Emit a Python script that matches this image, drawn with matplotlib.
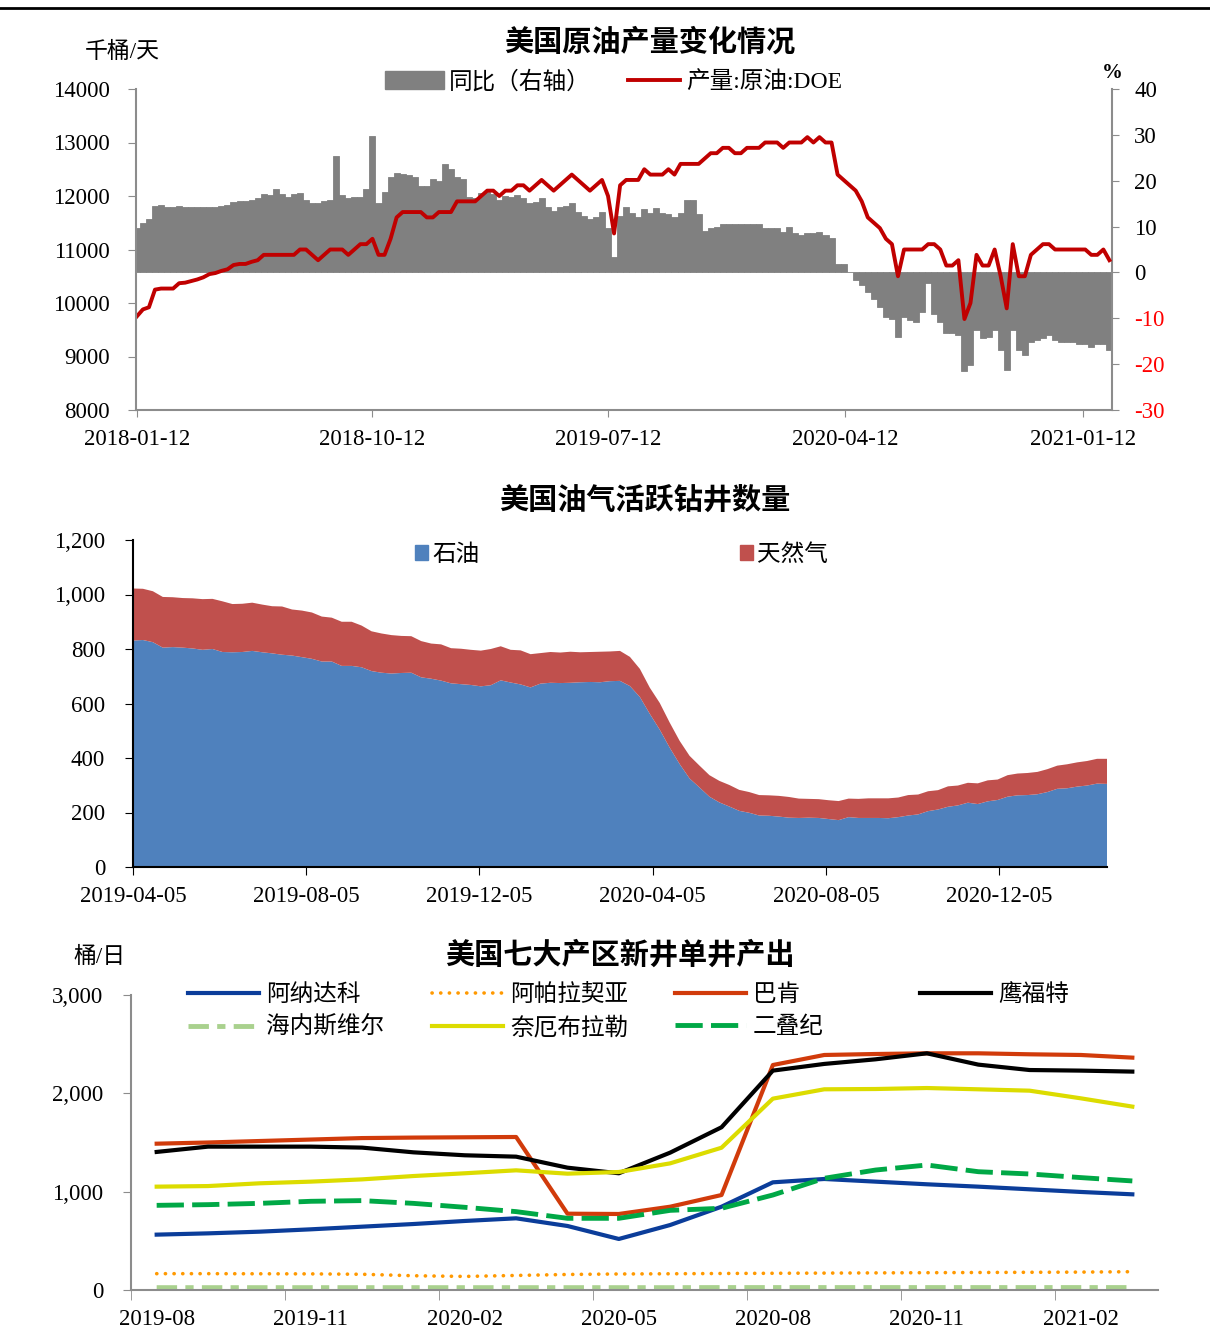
import numpy as np
import pandas as pd
import matplotlib
matplotlib.use('Agg')
import matplotlib.pyplot as plt
import matplotlib.ticker as tkr
import matplotlib.dates as mdates
from matplotlib.lines import Line2D
from matplotlib.patches import Patch

plt.rcParams['font.family'] = ['Liberation Serif', 'Noto Sans CJK SC']
plt.rcParams['axes.unicode_minus'] = False

# ---------------- 美国原油产量 (weekly, DOE) ----------------
prod_start = '2018-01-12'
crude_output = [
    9750, 9880, 9920, 10250, 10270, 10270, 10270, 10370, 10380, 10410,
    10440, 10480, 10540, 10560, 10600, 10630, 10710, 10730, 10730, 10770,
    10800, 10900, 10900, 10900, 10900, 10900, 10900, 11000, 11000, 10900,
    10800, 10900, 11000, 11000, 11000, 10900, 11000, 11100, 11100, 11200,
    10900, 10900, 11200, 11600, 11700, 11700, 11700, 11700, 11600, 11600,
    11700, 11700, 11700, 11900, 11900, 11900, 11900, 12000, 12100, 12100,
    12000, 12100, 12100, 12200, 12200, 12100, 12200, 12300, 12200, 12100,
    12200, 12300, 12400, 12300, 12200, 12100, 12200, 12300, 12000, 11300,
    12200, 12300, 12300, 12300, 12500, 12400, 12400, 12400, 12500, 12400,
    12600, 12600, 12600, 12600, 12700, 12800, 12800, 12900, 12900, 12800,
    12800, 12900, 12900, 12900, 13000, 13000, 13000, 12900, 13000, 13000,
    13000, 13100, 13000, 13100, 13000, 13000, 12400, 12300, 12200, 12100,
    11900, 11600, 11500, 11400, 11200, 11100, 10500, 11000, 11000, 11000,
    11000, 11100, 11100, 11000, 10700, 10700, 10800, 9700, 10000, 10900,
    10700, 10700, 11000, 10500, 9900, 11100, 10500, 10500, 10900, 11000,
    11100, 11100, 11000, 11000, 11000, 11000, 11000, 11000, 10900, 10900,
    11000, 10800]
crude_yoy = [
    9.6, 10.7, 11.6, 14.5, 14.7, 14.3, 14.2, 14.5, 14.3, 14.3,
    14.3, 14.2, 14.2, 14.3, 14.5, 14.7, 15.4, 15.6, 15.6, 15.8,
    16.3, 17.2, 16.9, 18.1, 17.1, 16.4, 17.1, 17.4, 15.8, 15.1,
    15.2, 15.6, 15.8, 25.4, 16.9, 16.2, 16.5, 16.4, 18.3, 29.7,
    15.1, 17.6, 20.9, 21.6, 21.5, 21.2, 20.9, 18.9, 18.9, 20.3,
    20.0, 23.6, 22.5, 20.9, 20.3, 16.4, 16.2, 17.4, 17.6, 17.1,
    15.9, 16.6, 16.4, 16.9, 16.2, 15.2, 15.4, 16.2, 14.2, 13.5,
    14.2, 14.5, 15.1, 13.2, 12.3, 11.6, 12.1, 13.2, 9.6, 3.4,
    12.3, 14.2, 13.0, 12.1, 13.9, 13.0, 14.0, 13.0, 12.7, 12.1,
    12.9, 15.8, 15.8, 12.7, 9.1, 9.6, 9.8, 10.5, 10.5, 10.5,
    10.5, 10.5, 10.5, 10.5, 9.6, 9.6, 9.6, 8.9, 9.8, 8.5,
    8.1, 8.6, 8.6, 8.9, 8.1, 7.4, 1.9, 1.9, 0.0, -1.6,
    -2.7, -4.2, -5.7, -7.5, -9.7, -10.1, -14.0, -9.7, -10.4, -10.8,
    -8.6, -2.4, -9.0, -10.8, -13.3, -13.3, -13.7, -21.6, -20.2, -12.6,
    -14.4, -14.0, -12.6, -16.9, -21.3, -12.6, -16.9, -18.0, -15.1, -14.7,
    -14.4, -13.7, -14.7, -15.1, -15.1, -15.1, -15.5, -15.6, -16.2, -15.6,
    -15.6, -16.9]
prod_ticks = ['2018-01-12', '2018-10-12', '2019-07-12', '2020-04-12', '2021-01-12']

# ---------------- 美国油气活跃钻井数量 (weekly) ----------------
rig_start = '2019-04-05'
oil_rigs = [
    831, 833, 825, 805, 807, 805, 802, 797, 800, 789, 788, 789, 793, 788, 784,
    779, 776, 770, 764, 754, 754, 738, 738, 733, 719, 713, 710, 712, 713, 696,
    691, 684, 674, 671, 668, 663, 667, 685, 677,
    670, 659, 673, 676, 675, 676, 678, 679, 678, 682, 683, 664, 624, 562, 504,
    438, 378, 325, 292, 258, 237, 222, 206, 199, 189, 188, 185, 181, 180, 181,
    180, 176, 172, 183, 180, 180, 180, 179, 183, 189, 193, 205, 211, 221, 226,
    236, 231, 241, 246, 258, 263, 264,
    267, 275, 287, 289, 295, 299, 306, 305]
gas_rigs = [
    191, 188, 187, 186, 183, 182, 184, 186, 184, 186, 177, 177, 177, 175, 173,
    177, 169, 171, 170, 165, 161, 162, 162, 153, 146, 144, 141, 136, 134, 133,
    129, 133, 129, 130, 129, 131, 133, 125, 120,
    125, 122, 112, 113, 112, 114, 110, 110, 112, 109, 110, 107, 103, 96, 98,
    92, 85, 83, 80, 79, 79, 79, 77, 76, 75, 75, 76, 76, 71, 69,
    69, 69, 70, 68, 70, 72, 72, 73, 72, 75, 73, 73, 71, 75, 73,
    73, 76, 77, 75, 79, 80, 81,
    82, 84, 85, 88, 89, 90, 91, 92]
rig_ticks = ['2019-04-05', '2019-08-05', '2019-12-05', '2020-04-05', '2020-08-05', '2020-12-05']

# ---------------- 美国七大产区新井单井产出 (monthly) ----------------
months = ['2019-08', '2019-09', '2019-10', '2019-11', '2019-12', '2020-01', '2020-02',
          '2020-03', '2020-04', '2020-05', '2020-06', '2020-07', '2020-08', '2020-09',
          '2020-10', '2020-11', '2020-12', '2021-01', '2021-02', '2021-03']
anadarko = [563, 576, 593, 617, 644, 671, 702, 729, 651, 519,
            661, 847, 1095, 1129, 1102, 1075, 1051, 1024, 997, 973]
appalachia = [166, 166, 165, 164, 160, 145, 138, 148, 158, 163,
              165, 168, 170, 172, 174, 176, 178, 180, 182, 186]
bakken = [1488, 1500, 1515, 1530, 1545, 1550, 1553, 1556, 776, 773,
          847, 966, 2288, 2390, 2400, 2407, 2407, 2397, 2390, 2363]
eagle_ford = [1404, 1458, 1458, 1458, 1448, 1400, 1370, 1356, 1244, 1187,
              1397, 1655, 2231, 2299, 2346, 2407, 2292, 2237, 2231, 2221]
haynesville = [24, 24, 24, 24, 24, 24, 24, 24, 24, 24,
               24, 25, 25, 25, 25, 25, 25, 25, 25, 25]
niobrara = [1051, 1057, 1085, 1102, 1125, 1159, 1187, 1217, 1183, 1200,
            1288, 1447, 1946, 2041, 2044, 2054, 2041, 2027, 1949, 1865]
permian = [861, 868, 881, 902, 909, 881, 841, 797, 729, 729,
           810, 831, 966, 1136, 1220, 1271, 1203, 1180, 1143, 1109]

W, H = 1210, 1333


def fx(x):
    return x / W


def fy(y):
    return 1 - y / H


def box(l, t, r, b):
    return [fx(l), fy(b), fx(r) - fx(l), fy(t) - fy(b)]


cjk = ['Noto Sans CJK SC']
tick_fs = 16.5
title_fs = 21
grey = '#8c8c8c'
leg_kw = dict(frameon=False, borderpad=0, borderaxespad=0, loc='center left')

fig = plt.figure(figsize=(W / 100, H / 100), dpi=100)
fig.add_artist(Line2D([0, 1], [fy(8), fy(8)], color='black', lw=2))

# ======================= chart 1 =======================
wk = pd.date_range(prod_start, periods=len(crude_output), freq='7D')
ax = fig.add_axes(box(136, 89, 1112, 410))
axl = ax.twinx()
ax.bar(wk, crude_yoy, width=7, color='#808080', edgecolor='#808080', linewidth=0.6)
axl.plot(wk, crude_output, color='#C00000', lw=2.8)
ax.set_ylim(-30, 40)
axl.set_ylim(8000, 14000)
ax.set_xlim(pd.Timestamp('2018-01-11'), pd.Timestamp('2021-02-15'))

ax.yaxis.tick_right()
axl.yaxis.tick_left()
pct_ticks = list(range(-30, 41, 10))
ax.set_yticks(pct_ticks)
axl.set_yticks(range(8000, 14001, 1000))
ax.tick_params(axis='y', which='both', left=False, right=True, labelleft=False,
               labelright=True, length=5, color=grey, labelsize=tick_fs, pad=11)
axl.tick_params(axis='y', left=True, right=False, labelleft=True, labelright=False,
                length=6, color=grey, labelsize=tick_fs, pad=13)
for t, v in zip(ax.yaxis.get_major_ticks(), pct_ticks):
    c = 'red' if v < 0 else 'black'
    t.label1.set_color(c)
    t.label2.set_color(c)
ax.set_xticks(pd.to_datetime(prod_ticks))
ax.xaxis.set_major_formatter(mdates.DateFormatter('%Y-%m-%d'))
ax.tick_params(axis='x', length=5, color=grey, labelsize=tick_fs, pad=9)
for s in ['top', 'left']:
    ax.spines[s].set_visible(False)
for s in ['top', 'right', 'bottom']:
    axl.spines[s].set_visible(False)
ax.spines['right'].set_color(grey)
ax.spines['bottom'].set_color(grey)
axl.spines['left'].set_color(grey)
for a in (ax, axl):
    for s in a.spines.values():
        s.set_linewidth(1.5)

fig.text(fx(650), fy(42), '美国原油产量变化情况', ha='center', va='center',
         fontsize=title_fs, fontweight='bold', family=cjk)
fig.text(fx(122), fy(52), '千桶/天', ha='center', va='center', fontsize=16.5)
fig.text(fx(1112), fy(73), '%', ha='center', va='center', fontsize=15, fontweight='bold')
fig.legend([Patch(color='#808080')], ['同比（右轴）'], bbox_to_anchor=(fx(385), fy(82)),
           fontsize=17, handlelength=2.5, handleheight=0.8, handletextpad=0.2, **leg_kw)
fig.legend([Line2D([], [], color='#C00000', lw=2.8)], ['产量:原油:DOE'],
           bbox_to_anchor=(fx(628), fy(82)), fontsize=17, handlelength=2.2,
           handletextpad=0.27, **leg_kw)

# ======================= chart 2 =======================
rig_wk = pd.date_range(rig_start, periods=len(oil_rigs), freq='7D')
ax2 = fig.add_axes(box(133, 540, 1107, 867))
ax2.stackplot(rig_wk, oil_rigs, gas_rigs, colors=['#4F81BD', '#C0504D'], lw=0)
ax2.set_xlim(rig_wk[0], rig_wk[-1])
ax2.set_ylim(0, 1200)
ax2.set_yticks(range(0, 1201, 200))
ax2.yaxis.set_major_formatter(tkr.FuncFormatter(lambda v, p: f'{v:,.0f}'))
ax2.set_xticks(pd.to_datetime(rig_ticks))
ax2.xaxis.set_major_formatter(mdates.DateFormatter('%Y-%m-%d'))
ax2.tick_params(axis='y', length=6, labelsize=tick_fs, pad=14)
ax2.tick_params(axis='x', length=6, labelsize=tick_fs, pad=8)
for s in ['top', 'right']:
    ax2.spines[s].set_visible(False)
for s in ['left', 'bottom']:
    ax2.spines[s].set_linewidth(1.5)

fig.text(fx(645), fy(500), '美国油气活跃钻井数量', ha='center', va='center',
         fontsize=title_fs, fontweight='bold', family=cjk)
fig.legend([Patch(color='#4F81BD')], ['石油'], bbox_to_anchor=(fx(415), fy(555)),
           fontsize=17, handlelength=0.55, handleheight=0.55, handletextpad=0.17, **leg_kw)
fig.legend([Patch(color='#C0504D')], ['天然气'], bbox_to_anchor=(fx(740), fy(555)),
           fontsize=17, handlelength=0.55, handleheight=0.55, handletextpad=0.17, **leg_kw)

# ======================= chart 3 =======================
ax3 = fig.add_axes(box(131, 995, 1158, 1290))
x = np.arange(len(months))
styles = {
    '阿纳达科': (anadarko, dict(color='#0B3D9A', lw=3)),
    '阿帕拉契亚': (appalachia, dict(color='#FF9900', lw=2.6, ls=(0, (0.05, 2.35)),
                                dash_capstyle='round')),
    '巴肯': (bakken, dict(color='#D13B0B', lw=3)),
    '鹰福特': (eagle_ford, dict(color='black', lw=3)),
    '海内斯维尔': (haynesville, dict(color='#A9D18E', lw=3.5, ls=(0, (4.2, 1.7, 1.7, 1.7)))),
    '奈厄布拉勒': (niobrara, dict(color='#DCDC00', lw=3)),
    '二叠纪': (permian, dict(color='#00A846', lw=3.5, ls=(0, (5.6, 1.7)))),
}
handles = {}
for name, (vals, kw) in styles.items():
    handles[name], = ax3.plot(x, vals, **kw)

ax3.set_xlim(-0.5, len(months) - 0.5)
ax3.set_ylim(0, 3000)
ax3.set_yticks(range(0, 3001, 1000))
ax3.yaxis.set_major_formatter(tkr.FuncFormatter(lambda v, p: f'{v:,.0f}'))
ax3.set_xticks(x[::3], [months[i] for i in x[::3]])
ax3.set_xticks(np.arange(-0.5, len(months) - 1, 3), minor=True)
ax3.tick_params(axis='x', which='major', length=0, labelsize=tick_fs, pad=14)
ax3.tick_params(axis='x', which='minor', length=7, color=grey)
ax3.tick_params(axis='y', length=6, color=grey, labelsize=tick_fs, pad=14)
for s in ['top', 'right']:
    ax3.spines[s].set_visible(False)
for s in ['left', 'bottom']:
    ax3.spines[s].set_color(grey)
    ax3.spines[s].set_linewidth(1.5)

fig.text(fx(620), fy(955), '美国七大产区新井单井产出', ha='center', va='center',
         fontsize=title_fs, fontweight='bold', family=cjk)
fig.text(fx(100), fy(957), '桶/日', ha='center', va='center', fontsize=16.5)

columns = [(188, ['阿纳达科', '海内斯维尔']), (432, ['阿帕拉契亚', '奈厄布拉勒']),
           (675, ['巴肯', '二叠纪']), (920, ['鹰福特'])]
for xpos, names in columns:
    yc = 1011.5 if len(names) == 2 else 995
    fig.legend([handles[n] for n in names], names, bbox_to_anchor=(fx(xpos), fy(yc)),
               fontsize=17, handlelength=3.0, handletextpad=0.3, labelspacing=0.45, **leg_kw)

fig.savefig('out.png', dpi=100)
